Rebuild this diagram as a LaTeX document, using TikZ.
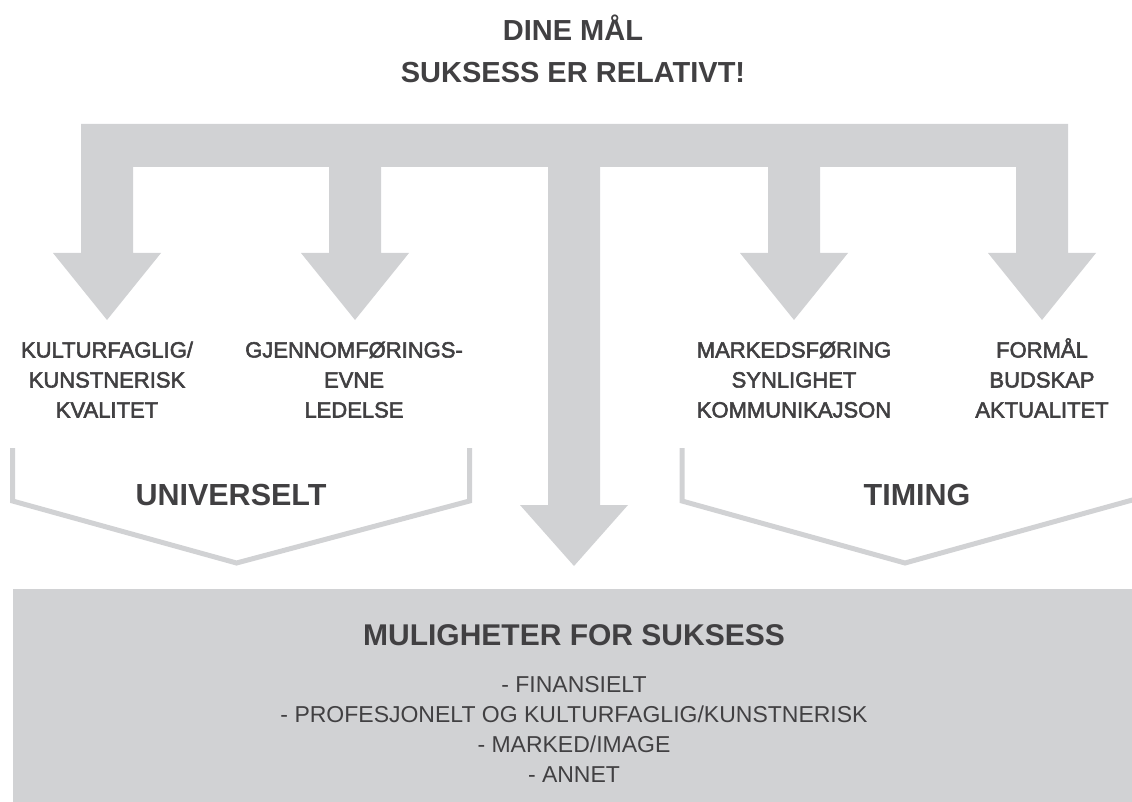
\documentclass[tikz,border=0pt]{standalone}
\usepackage{fontspec}
\setmainfont{Liberation Sans}
\newfontfamily\labelfont[FakeBold=2.5]{Liberation Sans}
\definecolor{panel}{HTML}{D1D2D4}
\definecolor{ink}{HTML}{414042}
\begin{document}
\begin{tikzpicture}[x=1pt,y=-1pt,
  headline/.style={font=\bfseries\fontsize{29}{42}\selectfont, text=ink, inner sep=0pt, anchor=base, align=center},
  factor/.style={font=\labelfont\fontsize{22}{30}\selectfont, text=ink, inner sep=0pt, anchor=base, align=center},
  group/.style={font=\bfseries\fontsize{30.5}{30}\selectfont, text=ink, inner sep=0pt, anchor=base},
  boxhead/.style={font=\bfseries\fontsize{30}{30}\selectfont, text=ink, inner sep=0pt, anchor=base},
  boxitem/.style={font=\fontsize{23}{30.1}\selectfont, text=ink, inner sep=0pt, anchor=base, align=center},
  bracket/.style={draw=panel, line width=5pt, line join=miter}
]
\useasboundingbox (0,0) rectangle (1132,802);
\clip (0,0) rectangle (1132,802);

% header (base anchor sits on the last line)
\node[headline] (title) at (573,83) {DINE MÅL\\SUKSESS ER RELATIVT!};

% branching arrow: top bar, four side arrows and the long centre arrow
\fill[panel] (81,124) -- (1068,124) -- (1068,253) -- (1096,253) -- (1042,320) -- (988,253)
  -- (1016,253) -- (1016,167) -- (820,167) -- (820,253) -- (848,253) -- (794,320) -- (740,253)
  -- (768,253) -- (768,167) -- (600,167) -- (600,505) -- (628,505) -- (574,566) -- (520,505)
  -- (548,505) -- (548,167) -- (381,167) -- (381,253) -- (409,253) -- (355,320) -- (301,253)
  -- (329,253) -- (329,167) -- (133,167) -- (133,253) -- (161,253) -- (107,320) -- (53,253)
  -- (81,253) -- cycle;

% factor labels under the arrow heads
\node[factor] (kvalitet) at (107,417.5) {KULTURFAGLIG/\\KUNSTNERISK\\KVALITET};
\node[factor] (evne) at (354,417.5) {GJENNOMFØRINGS-\\EVNE\\LEDELSE};
\node[factor] (marked) at (794,417.5) {MARKEDSFØRING\\SYNLIGHET\\KOMMUNIKAJSON};
\node[factor] (formaal) at (1042,417.5) {FORMÅL\\BUDSKAP\\AKTUALITET};

% grouping brackets
\draw[bracket] (12.6,448) -- (12.6,501) -- (236.5,563) -- (469.5,501) -- (469.5,448);
\draw[bracket] (682,448) -- (682,501) -- (905,563) -- (1145,496.5);
\node[group] (universelt) at (231,505.7) {UNIVERSELT};
\node[group] (timing) at (917,505.7) {TIMING};

% result panel
\fill[panel] (13,589) rectangle (1140,810);
\node[boxhead] (muligheter) at (574,645.7) {MULIGHETER FOR SUKSESS};
\node[boxitem] (liste) at (574,782.7) {- FINANSIELT\\- PROFESJONELT OG KULTURFAGLIG/KUNSTNERISK\\- MARKED/IMAGE\\- ANNET};
\end{tikzpicture}
\end{document}
